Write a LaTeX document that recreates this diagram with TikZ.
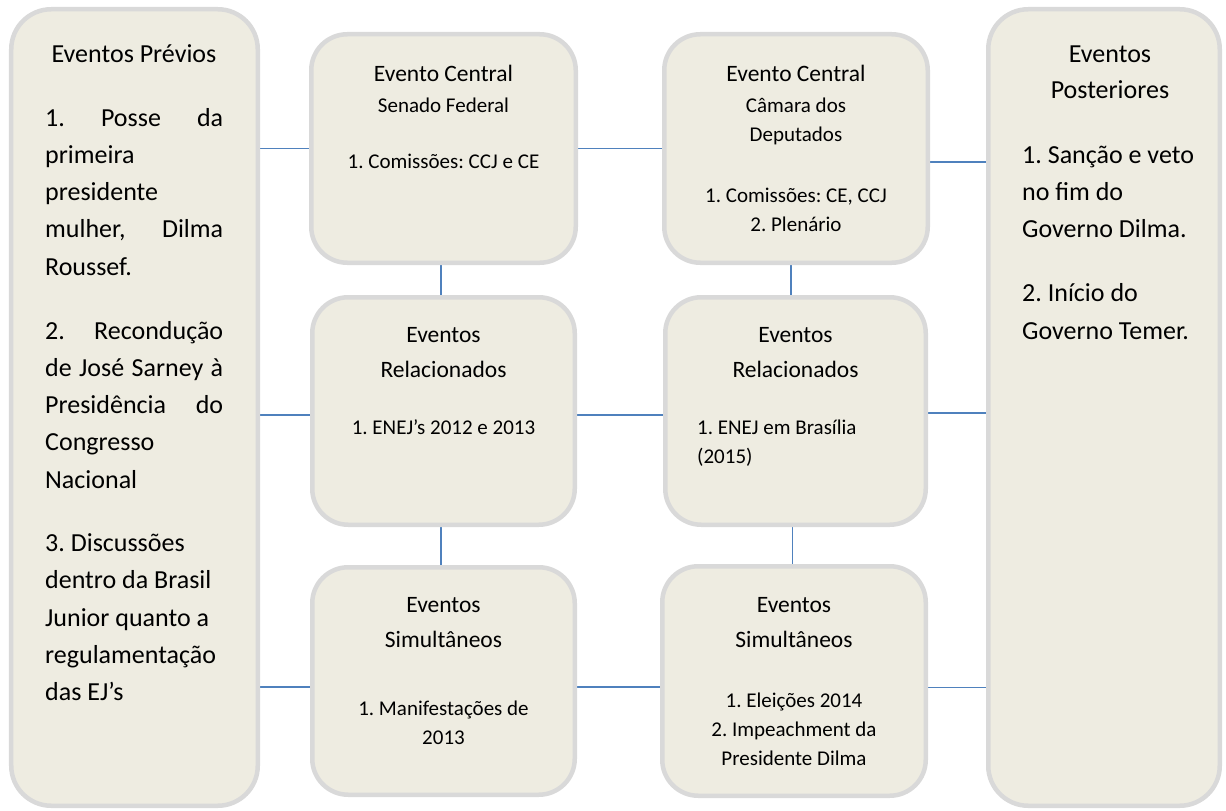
\documentclass[tikz,border=0pt]{standalone}
\usepackage{fontspec}
\setmainfont{Carlito}
\definecolor{boxfill}{HTML}{EEECE1}
\definecolor{boxgray}{HTML}{D9D9D9}
\definecolor{conblue}{HTML}{4F81BD}
\pgfdeclarelayer{back}
\pgfdeclarelayer{background}
\pgfsetlayers{back,background,main}
\tikzset{
  box/.style={draw=boxgray, line width=4.5bp, fill=boxfill, rounded corners=36bp, inner sep=0pt},
  bigbox/.style={box, rounded corners=40bp},
  conn/.style={draw=conblue, line width=1.6bp},
  ttl/.style={inner sep=0pt, anchor=base, text width=260bp, align=flush center, font=\fontsize{23.5bp}{34.5bp}\selectfont},
  itm/.style={inner sep=0pt, anchor=base, text width=260bp, align=flush center, font=\fontsize{21bp}{29bp}\selectfont},
  itml/.style={inner sep=0pt, anchor=base west, text width=220bp, align=flush left, font=\fontsize{21bp}{29bp}\selectfont},
  sidettl/.style={inner sep=0pt, anchor=base, text width=230bp, align=flush center, font=\fontsize{26bp}{36.5bp}\selectfont},
  sidetxt/.style={inner sep=0pt, anchor=base west, text width=200bp, align=flush left, font=\fontsize{26bp}{37.3bp}\selectfont},
}
\newcommand{\jline}[1]{\makebox[178bp][s]{\spaceskip=0.226em plus 1fil\relax #1}}
\frenchspacing
\begin{document}
\frenchspacing
\begin{tikzpicture}[x=1bp, y=-1bp]
\useasboundingbox (0,0) rectangle (1226,811);
\begin{pgfonlayer}{back}
\fill[white] (0,0) rectangle (1226,811);
\end{pgfonlayer}
% boxes
\node[bigbox, minimum width=246.5bp, minimum height=796.5bp] (l) at (134.5,407.5) {};
\node[box, minimum width=264.5bp, minimum height=228.5bp] (sf) at (443.5,148.5) {};
\node[box, minimum width=263.5bp, minimum height=228.5bp] (cd) at (796,148.5) {};
\node[box, minimum width=262.5bp, minimum height=227.5bp] (r1) at (443.5,411) {};
\node[box, minimum width=260.5bp, minimum height=227.5bp] (r2) at (795.5,411) {};
\node[box, minimum width=262.5bp, minimum height=227.5bp] (s1) at (443.5,681) {};
\node[box, minimum width=263.5bp, minimum height=229.5bp] (s2) at (794,681) {};
\node[bigbox, minimum width=231.5bp, minimum height=796.5bp] (rb) at (1104,407.5) {};
% connectors
\begin{pgfonlayer}{background}
\draw[conn] (l.east |- sf.west) -- (sf.west);
\draw[conn] (sf.east) -- (cd.west);
\draw[conn] ([yshift=-13.5bp]cd.east) -- ([yshift=-13.5bp]cd.east -| rb.west);
\draw[conn] ([yshift=-4bp]r1.west -| l.east) -- ([yshift=-4bp]r1.west);
\draw[conn] ([yshift=-4bp]r1.east) -- ([yshift=-4bp]r2.west);
\draw[conn] ([yshift=-2bp]r2.east) -- ([yshift=-2bp]r2.east -| rb.west);
\draw[conn] ([yshift=-6bp]s1.west -| l.east) -- ([yshift=-6bp]s1.west);
\draw[conn] ([yshift=-6bp]s1.east) -- ([yshift=-6bp]s2.west);
\draw[conn] ([yshift=-6.5bp]s2.east) -- ([yshift=-6.5bp]s2.east -| rb.west);
\draw[conn] ([xshift=-2.5bp]sf.south) -- ([xshift=-2.5bp]sf.south |- r1.north);
\draw[conn] ([xshift=-5bp]cd.south) -- ([xshift=-5bp]cd.south |- r2.north);
\draw[conn] ([xshift=-2.5bp]r1.south) -- ([xshift=-2.5bp]r1.south |- s1.north);
\draw[conn] ([xshift=-3bp]r2.south) -- ([xshift=-3bp]r2.south |- s2.north);
\end{pgfonlayer}
% left box text
\node[sidettl] (l-t) at (134,62.5) {Eventos Prévios};
\node[sidetxt] (l-b) at (45,126) {\jline{1. Posse da}\\primeira\\presidente\\\jline{mulher, Dilma}\\Roussef.\\[26.5bp]\jline{2. Recondução}\\\jline{de José Sarney à}\\\jline{Presidência do}\\Congresso\\Nacional\\[26bp]3. Discussões\\dentro da Brasil\\Junior quanto a\\regulamentação\\das EJ’s};
% senado
\node[ttl] (sf-t) at (443.5,82) {Evento Central};
\node[itm] (sf-s) at (443.5,112.5) {Senado Federal};
\node[itm] (sf-i) at (443.5,168.5) {1. Comissões: CCJ e CE};
% camara
\node[ttl] (cd-t) at (796,82) {Evento Central};
\node[itm] (cd-s) at (796,112.5) {Câmara dos\\Deputados};
\node[itm] (cd-i) at (796,202.5) {1. Comissões: CE, CCJ\\2. Plenário};
% relacionados
\node[ttl] (r1-t) at (443.5,342.5) {Eventos\\Relacionados};
\node[itm] (r1-i) at (443.5,434.5) {1. ENEJ’s 2012 e 2013};
\node[ttl] (r2-t) at (795.5,342.5) {Eventos\\Relacionados};
\node[itml] (r2-i) at (697,434.5) {1. ENEJ em Brasília\\(2015)};
% simultaneos
\node[ttl] (s1-t) at (443.5,612.5) {Eventos\\Simultâneos};
\node[itm] (s1-i) at (443.5,715.5) {1. Manifestações de\\2013};
\node[ttl] (s2-t) at (794,612.5) {Eventos\\Simultâneos};
\node[itm] (s2-i) at (794,707.5) {1. Eleições 2014\\2. Impeachment da\\Presidente Dilma};
% right box text
\node[sidettl] (rb-t) at (1110,62.5) {Eventos\\Posteriores};
\node[sidetxt] (rb-b) at (1022,163) {1. Sanção e veto\\no fim do\\Governo Dilma.\\[27bp]2. Início do\\Governo Temer.};
\end{tikzpicture}
\end{document}
